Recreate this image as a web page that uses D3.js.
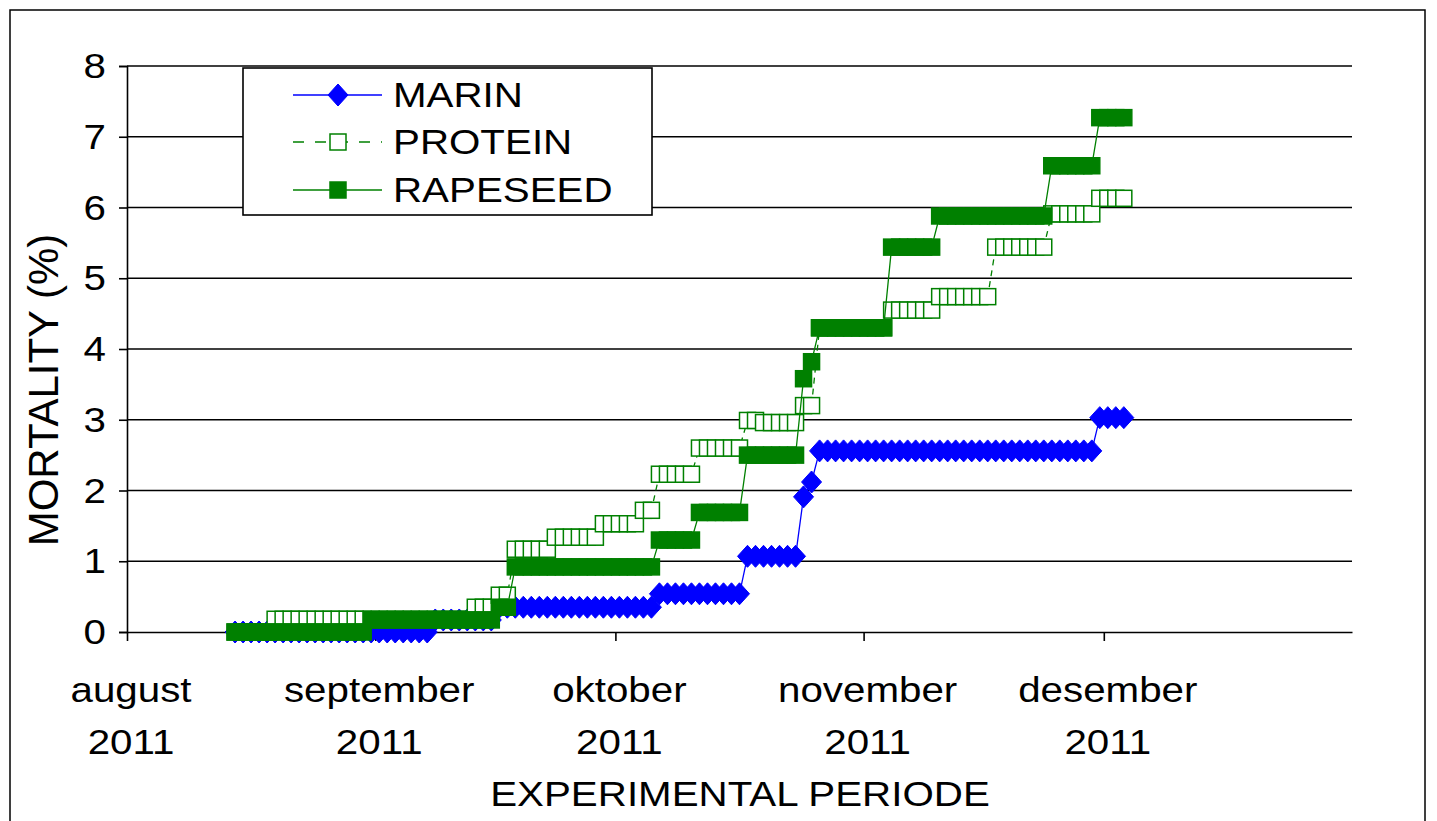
<!DOCTYPE html>
<html>
<head>
    <meta charset="utf-8">
    <title>Mortality</title>
    <script src="https://cdn.jsdelivr.net/npm/d3@7/dist/d3.min.js"></script>
</head>
<style>
    body {
        margin: 0px;
        background-color: white;
        overflow: hidden;
    }

    text {
        font-family: "Liberation Sans", Arial, sans-serif;
        fill: black;
    }

    .grid {
        stroke: black;
        stroke-width: 1.6px;
    }
</style>
<body>
    <svg id="svg"></svg>

    <script>
        // one value per day, starting 14 august 2011
        var firstDay = new Date(2011, 7, 14, 12)

        var marin = [
            0, 0, 0, 0, 0, 0, 0, 0, 0, 0, 0, 0, 0, 0,
            0, 0, 0, 0, 0, 0, 0, 0, 0, 0, 0, 0.17, 0.17, 0.17,
            0.17, 0.17, 0.17, 0.17, 0.17, 0.35, 0.35, 0.35, 0.35, 0.35, 0.35, 0.35, 0.35, 0.35,
            0.35, 0.35, 0.35, 0.35, 0.35, 0.35, 0.35, 0.35, 0.35, 0.35, 0.35, 0.54, 0.54, 0.54,
            0.54, 0.54, 0.54, 0.54, 0.54, 0.54, 0.54, 0.54, 1.07, 1.07, 1.07, 1.07, 1.07, 1.07,
            1.07, 1.91, 2.12, 2.56, 2.56, 2.56, 2.56, 2.56, 2.56, 2.56, 2.56, 2.56, 2.56, 2.56,
            2.56, 2.56, 2.56, 2.56, 2.56, 2.56, 2.56, 2.56, 2.56, 2.56, 2.56, 2.56, 2.56, 2.56,
            2.56, 2.56, 2.56, 2.56, 2.56, 2.56, 2.56, 2.56, 2.56, 2.56, 3.03, 3.03, 3.03, 3.03
        ]

        var protein = [
            0, 0, 0, 0, 0, 0.18, 0.18, 0.18, 0.18, 0.18, 0.18, 0.18, 0.18, 0.18,
            0.18, 0.18, 0.18, 0.18, 0.18, 0.18, 0.18, 0.18, 0.18, 0.18, 0.18, 0.18, 0.18, 0.18,
            0.18, 0.18, 0.35, 0.35, 0.35, 0.52, 0.52, 1.17, 1.17, 1.17, 1.17, 1.17, 1.34, 1.34,
            1.34, 1.34, 1.34, 1.34, 1.53, 1.53, 1.53, 1.53, 1.53, 1.72, 1.72, 2.23, 2.23, 2.23,
            2.23, 2.23, 2.60, 2.60, 2.60, 2.60, 2.60, 2.60, 2.99, 2.99, 2.96, 2.96, 2.96, 2.96,
            2.96, 3.20, 3.20, 4.30, 4.30, 4.30, 4.30, 4.30, 4.30, 4.30, 4.30, 4.30, 4.55, 4.55,
            4.55, 4.55, 4.55, 4.55, 4.74, 4.74, 4.74, 4.74, 4.74, 4.74, 4.74, 5.44, 5.44, 5.44,
            5.44, 5.44, 5.44, 5.44, 5.91, 5.91, 5.91, 5.91, 5.91, 5.91, 6.13, 6.13, 6.13, 6.13
        ]

        var rapeseed = [
            0, 0, 0, 0, 0, 0, 0, 0, 0, 0, 0, 0, 0, 0,
            0, 0, 0, 0.17, 0.17, 0.17, 0.17, 0.17, 0.17, 0.17, 0.17, 0.17, 0.17, 0.17,
            0.17, 0.17, 0.17, 0.17, 0.17, 0.35, 0.35, 0.92, 0.92, 0.92, 0.92, 0.92, 0.92, 0.92,
            0.92, 0.92, 0.92, 0.92, 0.92, 0.92, 0.92, 0.92, 0.92, 0.92, 0.92, 1.30, 1.30, 1.30,
            1.30, 1.30, 1.69, 1.69, 1.69, 1.69, 1.69, 1.69, 2.50, 2.50, 2.50, 2.50, 2.50, 2.50,
            2.50, 3.58, 3.82, 4.30, 4.30, 4.30, 4.30, 4.30, 4.30, 4.30, 4.30, 4.30, 5.44, 5.44,
            5.44, 5.44, 5.44, 5.44, 5.88, 5.88, 5.88, 5.88, 5.88, 5.88, 5.88, 5.88, 5.88, 5.88,
            5.88, 5.88, 5.88, 5.88, 6.59, 6.59, 6.59, 6.59, 6.59, 6.59, 7.27, 7.27, 7.27, 7.27
        ]

        var seriesNames = ["MARIN", "PROTEIN", "RAPESEED"]
        var monthNames = ["august", "september", "oktober", "november", "desember"]
        var monthStarts = [new Date(2011, 7, 1), new Date(2011, 8, 1), new Date(2011, 9, 1),
            new Date(2011, 10, 1), new Date(2011, 11, 1)]
        var yearText = "2011"
        var yTicks = [0, 1, 2, 3, 4, 5, 6, 7, 8]

        var width = 1437
        var height = 821
        var sx = 1.12   // text in the picture is a bit wide
        var fs = 36

        var svg = d3.select("svg")
            .attr("width", width)
            .attr("height", height)

        var x = d3.scaleTime()
            .domain([new Date(2011, 7, 1), new Date(2012, 0, 1)])
            .range([127, 1352])

        var y = d3.scaleLinear()
            .domain([0, 8])
            .range([632, 66])

        // outer frame
        svg.append("rect")
            .attr("x", 10).attr("y", 10)
            .attr("width", 1415).attr("height", 840)
            .attr("fill", "white")
            .attr("stroke", "black")
            .attr("stroke-width", 1.5)

        function label(g, px, py, str, anchor, size) {
            return g.append("text")
                .attr("transform", "translate(" + px + "," + py + ") scale(" + sx + ",1)")
                .attr("text-anchor", anchor)
                .attr("font-size", size)
                .text(str)
        }

        // gridlines
        svg.append("g").selectAll("line")
            .data(yTicks.slice(1))
            .join("line")
            .attr("class", "grid")
            .attr("x1", 127).attr("x2", 1352)
            .attr("y1", d => y(d)).attr("y2", d => y(d))

        // y axis
        var yAxis = svg.append("g")
            .attr("transform", "translate(127,0)")
            .call(d3.axisLeft(y).tickValues(yTicks).tickSize(8).tickFormat(""))
        yAxis.select(".domain").attr("stroke-width", 1.6)
        yAxis.selectAll(".tick line").attr("stroke-width", 1.6)

        yTicks.forEach(function (t) {
            label(svg, 106, y(t) + 12, String(t), "end", fs)
        })

        // x axis
        var xAxis = svg.append("g")
            .attr("transform", "translate(0,632)")
            .call(d3.axisBottom(x).tickValues(monthStarts).tickSize(9).tickFormat("").tickSizeOuter(0))
        xAxis.select(".domain").attr("stroke-width", 1.6)
        xAxis.selectAll(".tick line").attr("stroke-width", 1.6)

        monthStarts.forEach(function (m, i) {
            label(svg, x(m) + 4, 702, monthNames[i], "middle", fs)
            label(svg, x(m) + 4, 754, yearText, "middle", fs)
        })

        label(svg, 740, 806, "EXPERIMENTAL PERIODE", "middle", fs)

        svg.append("text")
            .attr("transform", "translate(58,390) rotate(-90)")
            .attr("text-anchor", "middle")
            .attr("font-size", 42)
            .text("MORTALITY (%)")

        // series
        function toPoints(values) {
            return values.map(function (v, i) {
                return { date: d3.timeDay.offset(firstDay, i), value: v }
            })
        }

        var line = d3.line()
            .x(d => x(d.date))
            .y(d => y(d.value))

        var diamond = "M0,-11L10,0L0,11L-10,0Z"

        var styles = [
            { values: marin, color: "#0000ff", dash: null, marker: "diamond", fill: "#0000ff" },
            { values: protein, color: "#008000", dash: "11,11", marker: "square", fill: "white" },
            { values: rapeseed, color: "#008000", dash: null, marker: "square", fill: "#008000" }
        ]

        styles.forEach(function (s) {
            var pts = toPoints(s.values)
            var g = svg.append("g")

            g.append("path")
                .datum(pts)
                .attr("d", line)
                .attr("fill", "none")
                .attr("stroke", s.color)
                .attr("stroke-width", 1.3)
                .attr("stroke-dasharray", s.dash == null ? null : "6,5")

            if (s.marker == "diamond") {
                g.selectAll(".m")
                    .data(pts)
                    .join("path")
                    .attr("class", "m")
                    .attr("d", diamond)
                    .attr("transform", d => "translate(" + x(d.date) + "," + y(d.value) + ")")
                    .attr("fill", s.fill)
                    .attr("stroke", s.color)
                    .attr("stroke-width", 1)
            } else {
                g.selectAll(".m")
                    .data(pts)
                    .join("rect")
                    .attr("class", "m")
                    .attr("x", d => x(d.date) - 8)
                    .attr("y", d => y(d.value) - 8)
                    .attr("width", 16)
                    .attr("height", 16)
                    .attr("fill", s.fill)
                    .attr("stroke", s.color)
                    .attr("stroke-width", 1.5)
            }
        })

        // legend
        var legend = svg.append("g")
        legend.append("rect")
            .attr("x", 243).attr("y", 68)
            .attr("width", 409).attr("height", 147)
            .attr("fill", "white")
            .attr("stroke", "black")
            .attr("stroke-width", 1.6)

        var legendY = [95, 142, 190]
        styles.forEach(function (s, i) {
            var ly = legendY[i]
            legend.append("line")
                .attr("x1", 293).attr("x2", 382)
                .attr("y1", ly).attr("y2", ly)
                .attr("stroke", s.color)
                .attr("stroke-width", 1.5)
                .attr("stroke-dasharray", s.dash)
            if (s.marker == "diamond") {
                legend.append("path")
                    .attr("d", diamond)
                    .attr("transform", "translate(338," + ly + ")")
                    .attr("fill", s.fill)
                    .attr("stroke", s.color)
            } else {
                legend.append("rect")
                    .attr("x", 330).attr("y", ly - 8)
                    .attr("width", 16).attr("height", 16)
                    .attr("fill", s.fill)
                    .attr("stroke", s.color)
                    .attr("stroke-width", 1.5)
            }
            label(legend, 393, ly + 12, seriesNames[i], "start", fs)
        })
    </script>
</body>
</html>
